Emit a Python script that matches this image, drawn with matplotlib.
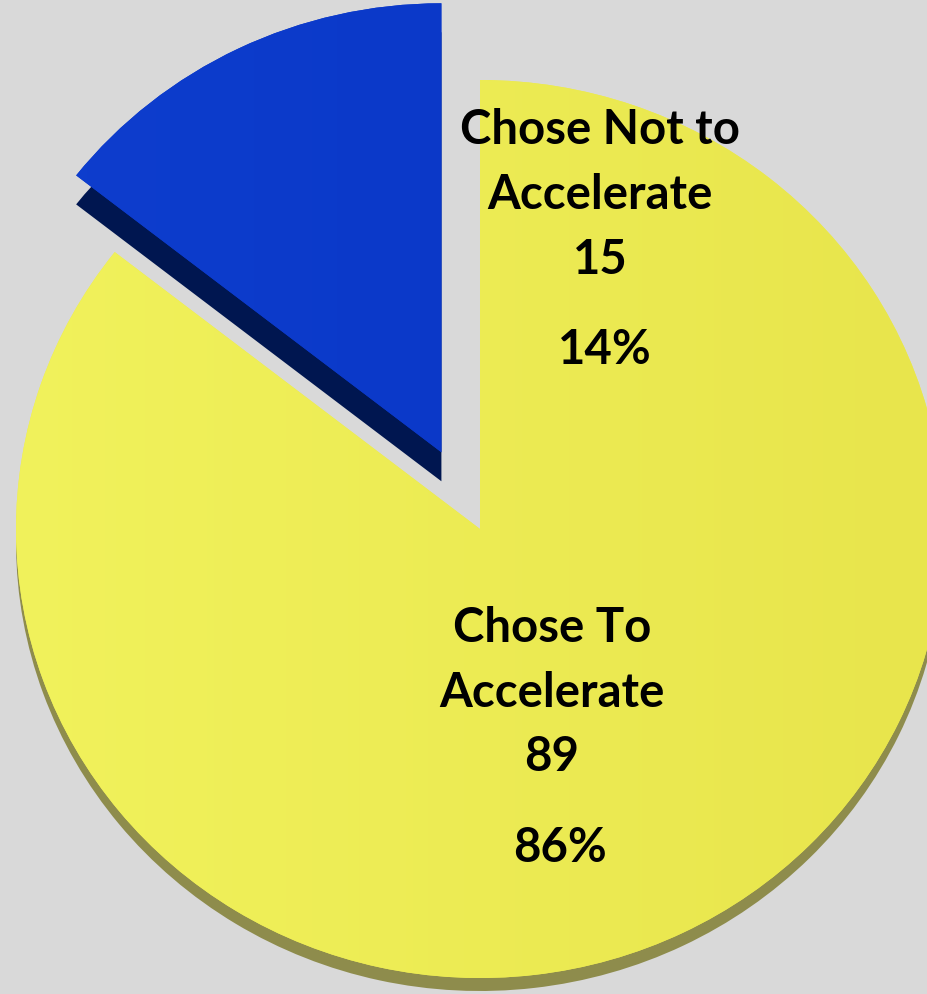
import matplotlib
matplotlib.use("Agg")
import matplotlib.pyplot as plt
import numpy as np
from matplotlib.colors import LinearSegmentedColormap

labels = [["Chose Not to", "Accelerate"], ["Chose To", "Accelerate"]]
counts = [15, 89]
percents = ["14%", "86%"]
top_colors = ["#0B3ACB", "#EDEC55"]
shade_colors = [("#0E3ECE", "#0833C3"), ("#F1F25C", "#E8E54C")]
side_colors = ["#001650", "#8E8C4C"]

W, H = 928, 995
fig = plt.figure(figsize=(W / 100, H / 100), dpi=100)
fig.patch.set_facecolor("#D9D9D9")
ax = fig.add_axes([0, 0, 1, 1])
ax.set_facecolor("#D9D9D9")

# pie centre in pixels and radii (squashed, tilted 3D look)
cx, cy = 480, 530
rx, ry = 464, 449
depths = [29 / ry, 13 / ry]
explode = [0.19, 0.0]

xmin, xmax = -cx / rx, (W - cx) / rx
ymin, ymax = -(H - cy) / ry, cy / ry

side, _ = ax.pie(counts, colors=side_colors, startangle=90, counterclock=True,
                 explode=explode, radius=1, wedgeprops=dict(linewidth=0))
for w, d in zip(side, depths):
    x0, y0 = w.center
    w.set_center((x0, y0 - d))

top, _ = ax.pie(counts, colors=top_colors, startangle=90, counterclock=True,
                explode=explode, radius=1, wedgeprops=dict(linewidth=0))

# soft left-to-right shading on the top faces
grad = np.linspace(0, 1, 256).reshape(1, -1)
for w, (c0, c1) in zip(top, shade_colors):
    cmap = LinearSegmentedColormap.from_list("s", [c0, c1])
    im = ax.imshow(grad, cmap=cmap, extent=(xmin, xmax, ymin, ymax),
                   aspect="auto", zorder=w.get_zorder() + 0.1)
    im.set_clip_path(w)

ax.set_aspect("auto")
ax.set_xlim(xmin, xmax)
ax.set_ylim(ymin, ymax)
ax.axis("off")

font = dict(family=["Lato", "DejaVu Sans"], weight="bold", color="black",
            ha="center", va="center", fontsize=34, zorder=5)

def px(x, y):
    return x / W, 1 - y / H

lab_pos = [(600, 130), (552, 628)]
num_pos = [(600, 260), (552, 757)]
pct_pos = [(605, 350), (560, 848)]
for i in range(len(counts)):
    x0, y0 = lab_pos[i]
    for j, line in enumerate(labels[i]):
        fig.text(*px(x0, y0 + 65 * j), line, **font)
    fig.text(*px(*num_pos[i]), str(counts[i]), **font)
    fig.text(*px(*pct_pos[i]), percents[i], **font)

fig.savefig("out.png", dpi=100, facecolor=fig.get_facecolor())
